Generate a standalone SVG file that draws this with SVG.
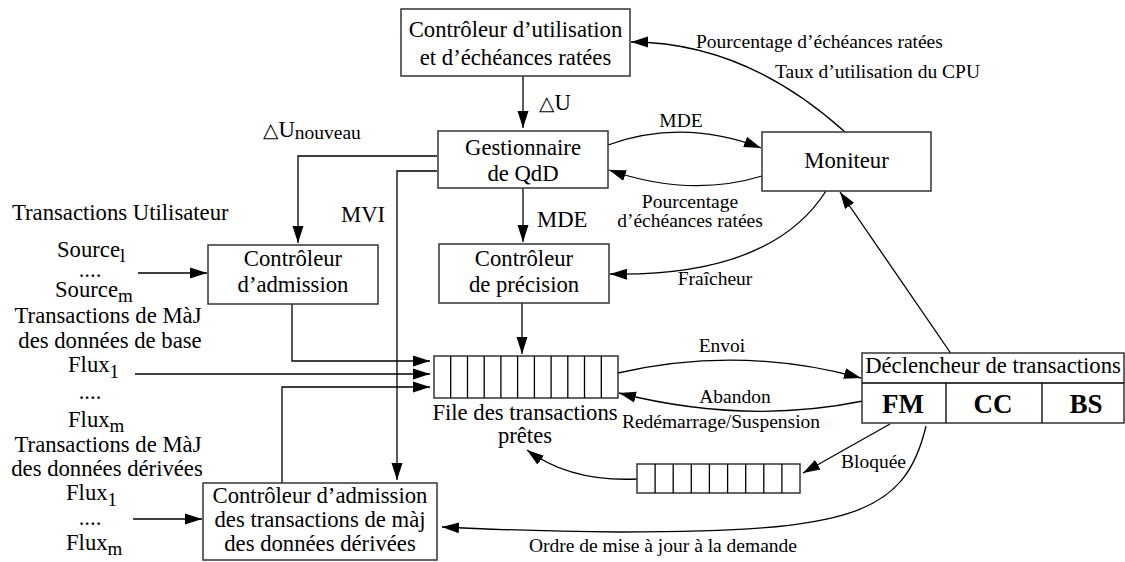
<svg xmlns="http://www.w3.org/2000/svg" width="1125" height="562" viewBox="0 0 1125 562">
<defs>
<marker id="ah" markerUnits="userSpaceOnUse" markerWidth="18" markerHeight="12" refX="17" refY="6" orient="auto"><path d="M0,0.5 L17,6 L0,11.5 z" fill="#000"/></marker>
<style>
.box{fill:#fff;stroke:#333;stroke-width:1.5}
.ln{fill:none;stroke:#000;stroke-width:1.3}
.ar{marker-end:url(#ah)}
.t{font-family:"Liberation Serif","Times New Roman",serif;font-size:22.7px;fill:#000}
.s{font-family:"Liberation Serif","Times New Roman",serif;font-size:19.5px;fill:#000}
.c{text-anchor:middle}
.b{font-weight:bold;font-size:27px}
.tri{font-family:"DejaVu Sans",sans-serif;font-size:20px}
</style>
</defs>
<rect width="1125" height="562" fill="#fff"/>

<g id="connectors">
<path class="ln ar" d="M523,76 L523,128"/>
<path class="ln ar" d="M523,188 L523,242"/>
<path class="ln ar" d="M522,303 L522,354"/>
<path class="ln ar" d="M437,156 L298,156 L298,243"/>
<path class="ln ar" d="M437,171 L397,171 L397,480"/>
<path class="ln ar" d="M292,304 L292,361 L430,361"/>
<path class="ln ar" d="M135,374 L430,374"/>
<path class="ln ar" d="M282,483 L282,387 L430,387"/>
<path class="ln ar" d="M138,273 L207,273"/>
<path class="ln ar" d="M133,519 L202,519"/>
<path class="ln ar" d="M845,132 Q745,42 631,42"/>
<path class="ln ar" d="M608,145 Q683,118 761,148"/>
<path class="ln ar" d="M762,176 Q690,198 609,170"/>
<path class="ln ar" d="M826,191 Q771,277 610,274"/>
<path class="ln ar" d="M952,355 L840,192"/>
<path class="ln ar" d="M618,373 Q740,345 861,378"/>
<path class="ln ar" d="M863,401 Q745,425 619,393"/>
<path class="ln ar" d="M890,424 L803,473"/>
<path class="ln ar" d="M637,479 Q570,482 527,450"/>
<path class="ln ar" d="M926,426 C905,515 850,532 620,532 Q520,531 442,527"/>
</g>

<g id="ctrl-utilisation">
<rect class="box" x="401" y="9" width="229" height="67"/>
<text class="t c" x="515.5" y="37">Contrôleur d’utilisation</text>
<text class="t c" x="515.5" y="65">et d’échéances ratées</text>
</g>

<g id="gestionnaire">
<rect class="box" x="438" y="131" width="170" height="57"/>
<text class="t c" x="523" y="155">Gestionnaire</text>
<text class="t c" x="523" y="181">de QdD</text>
</g>

<g id="moniteur">
<rect class="box" x="762" y="132" width="169" height="59"/>
<text class="t c" x="846.5" y="168">Moniteur</text>
</g>

<g id="ctrl-admission">
<rect class="box" x="208" y="245" width="170" height="59"/>
<text class="t c" x="293" y="266">Contrôleur</text>
<text class="t c" x="293" y="292">d’admission</text>
</g>

<g id="ctrl-precision">
<rect class="box" x="439" y="244" width="170" height="59"/>
<text class="t c" x="524" y="266">Contrôleur</text>
<text class="t c" x="524" y="292">de précision</text>
</g>

<g id="file-pretes">
<rect class="box" x="434" y="356" width="184" height="42"/>
<path class="ln" stroke="#333" d="M450.7,356V398M467.5,356V398M484.2,356V398M500.9,356V398M517.6,356V398M534.4,356V398M551.1,356V398M567.8,356V398M584.5,356V398M601.3,356V398"/>
<text class="t c" x="525" y="420">File des transactions</text>
<text class="t c" x="525" y="443">prêtes</text>
</g>

<g id="file-bloquees">
<rect class="box" x="637" y="464" width="163" height="29"/>
<path class="ln" stroke="#333" d="M655.1,464V493M673.2,464V493M691.3,464V493M709.4,464V493M727.6,464V493M745.7,464V493M763.8,464V493M781.9,464V493"/>
</g>

<g id="declencheur">
<rect class="box" x="862" y="353" width="262" height="70"/>
<path class="ln" stroke="#333" d="M862,383H1124M946,383V423M1042,383V423"/>
<text class="t c" x="993" y="373">Déclencheur de transactions</text>
<text class="t c b" x="903" y="413">FM</text>
<text class="t c b" x="993" y="413">CC</text>
<text class="t c b" x="1086" y="413">BS</text>
</g>

<g id="ctrl-derivees">
<rect class="box" x="203" y="483" width="234" height="77"/>
<text class="t c" x="320" y="503">Contrôleur d’admission</text>
<text class="t c" x="320" y="527">des transactions de màj</text>
<text class="t c" x="320" y="551">des données dérivées</text>
</g>

<g id="sources">
<text class="t" x="12" y="220">Transactions Utilisateur</text>
<text class="t" x="57" y="257">Source<tspan font-size="19" dy="5">l</tspan></text>
<text class="t c" x="90" y="277">....</text>
<text class="t" x="55" y="297">Source<tspan font-size="19" dy="5">m</tspan></text>
<text class="t c" x="108" y="323">Transactions de MàJ</text>
<text class="t c" x="110" y="348">des données de base</text>
<text class="t" x="68" y="372">Flux<tspan font-size="19" dy="6">1</tspan></text>
<text class="t c" x="90" y="399">....</text>
<text class="t" x="68" y="427">Flux<tspan font-size="19" dy="5">m</tspan></text>
<text class="t c" x="108" y="452">Transactions de MàJ</text>
<text class="t c" x="107" y="476">des données dérivées</text>
<text class="t" x="66" y="500">Flux<tspan font-size="19" dy="6">1</tspan></text>
<text class="t c" x="90" y="525">....</text>
<text class="t" x="66" y="550">Flux<tspan font-size="19" dy="5">m</tspan></text>
</g>

<g id="labels">
<text class="s" x="696" y="48">Pourcentage d’échéances ratées</text>
<text class="s" x="775" y="78">Taux d’utilisation du CPU</text>
<text x="539" y="110"><tspan class="tri">△</tspan><tspan class="t">U</tspan></text>
<text x="263" y="137"><tspan class="tri">△</tspan><tspan class="t">U</tspan><tspan class="s" dy="2">nouveau</tspan></text>
<text class="s c" x="681" y="127">MDE</text>
<text class="t" x="537" y="227">MDE</text>
<text class="t" x="341" y="222">MVI</text>
<text class="s c" x="690" y="208">Pourcentage</text>
<text class="s c" x="690" y="227">d’échéances ratées</text>
<text class="s c" x="715" y="285">Fraîcheur</text>
<text class="s c" x="722" y="352">Envoi</text>
<text class="s c" x="735" y="403">Abandon</text>
<text class="s c" x="721" y="428">Redémarrage/Suspension</text>
<text class="s" x="841" y="468">Bloquée</text>
<text class="s c" x="663" y="552">Ordre de mise à jour à la demande</text>
</g>
</svg>
